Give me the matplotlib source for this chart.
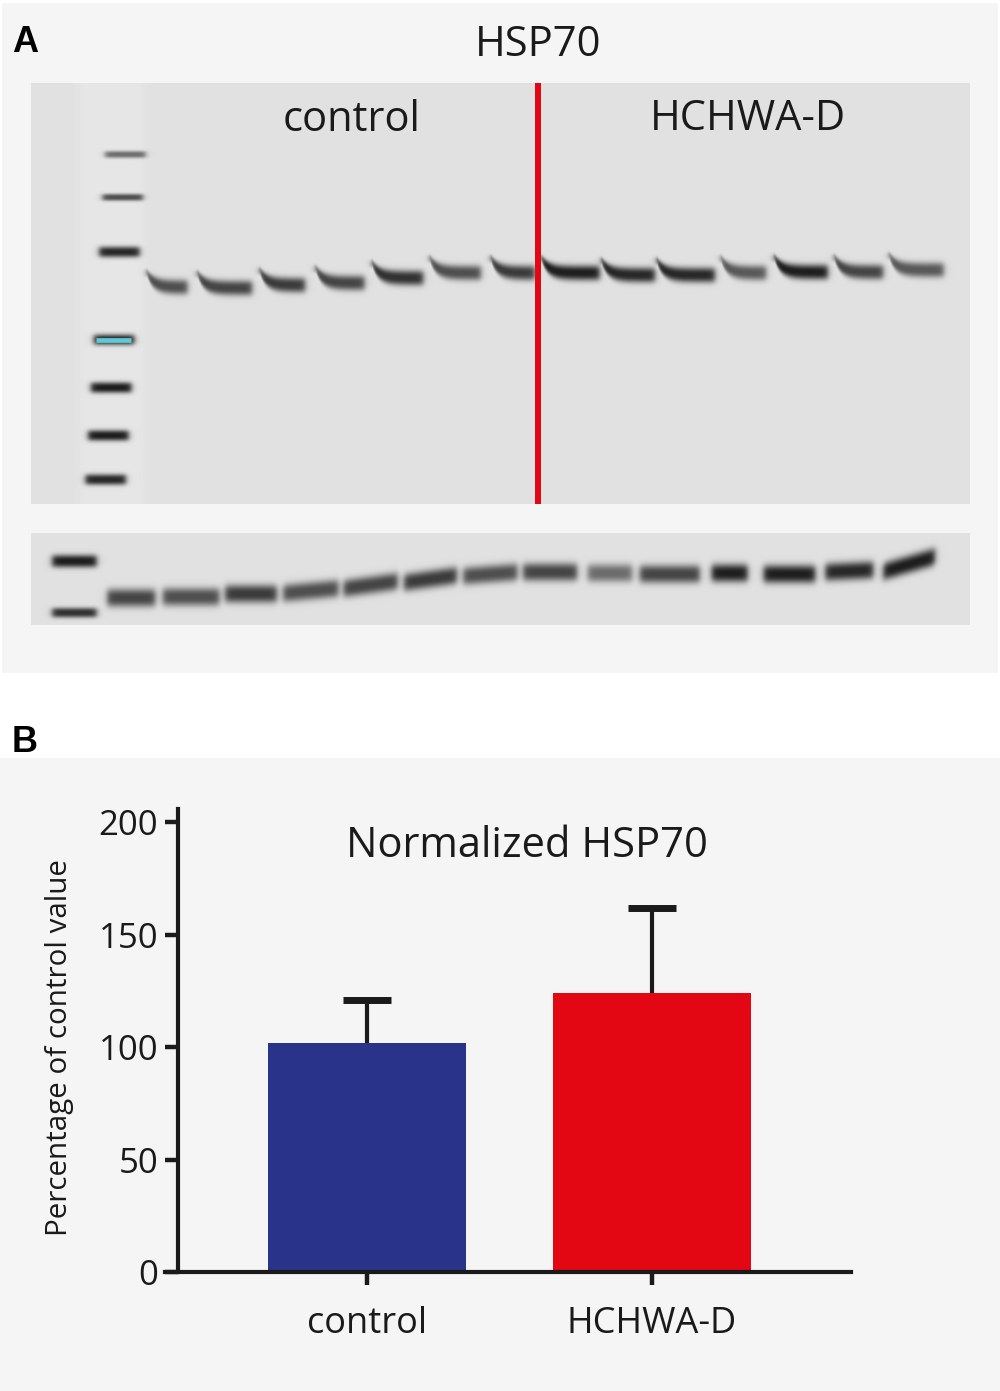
import matplotlib.pyplot as plt
import numpy as np
from matplotlib.patches import Rectangle

plt.rcParams['font.family'] = ['Open Sans', 'DejaVu Sans']

# ---- bar chart data (panel B)
groups = ['control', 'HCHWA-D']
hsp70_mean = [102, 124]
hsp70_err = [19, 38]          # upper error only
y_ticks = [0, 50, 100, 150, 200]

# ---- blot data (panel A)
lanes = np.arange(1, 15)
n_control = 7

# HSP70 blot: band migration (fraction of blot height from top) and relative band intensity
hsp_migration = [0.485, 0.487, 0.480, 0.475, 0.463, 0.451, 0.451,
                 0.451, 0.456, 0.456, 0.451, 0.449, 0.449, 0.444]
hsp_intensity = [0.75, 0.8, 0.85, 0.8, 0.9, 0.75, 0.85,
                 1.0, 0.95, 0.95, 0.7, 1.0, 0.8, 0.7]
hsp_ladder_migration = [0.169, 0.271, 0.401, 0.610, 0.724, 0.838, 0.943]
hsp_ladder_intensity = [0.6, 0.75, 0.95, 0.95, 1.0, 1.0, 0.95]

# loading control blot
load_migration = [0.707, 0.696, 0.663, 0.630, 0.565, 0.500, 0.446,
                  0.424, 0.435, 0.446, 0.435, 0.446, 0.413, 0.337]
load_intensity = [0.8, 0.75, 0.85, 0.75, 0.8, 0.85, 0.75,
                  0.8, 0.6, 0.8, 1.0, 1.0, 0.95, 1.0]
load_ladder_migration = [0.304, 0.870]
load_ladder_intensity = [1.0, 0.9]

# band shape styling (half widths in lanes, tilt)
hsp_halfwidth = [0.35, 0.47, 0.39, 0.42, 0.44, 0.44, 0.38,
                 0.50, 0.46, 0.50, 0.39, 0.46, 0.42, 0.47]
load_halfwidth = [0.40, 0.47, 0.43, 0.46, 0.45, 0.44, 0.45,
                  0.45, 0.37, 0.50, 0.30, 0.43, 0.40, 0.43]
load_tilt = [0, 0, 0, 0.06, 0.09, 0.09, 0.05, 0, 0, 0, 0, 0, 0.03, 0.19]

BG = '#f5f5f5'
BLOT_BG = 0.88
RED = '#e30613'
NAVY = '#29338a'
INK = '#1a1a1a'


def smooth_box(x, lo, hi, s):
    return 0.5 * (np.tanh((x - lo) / s) - np.tanh((x - hi) / s))


def draw_blot(ax, xlim, shape, bands, lighten=None):
    h, w = shape
    X, Y = np.meshgrid(np.linspace(xlim[0], xlim[1], w), np.linspace(0, 1, h))
    base = np.full(X.shape, BLOT_BG)
    if lighten is not None:
        lo, hi, amt = lighten
        base += amt * smooth_box(X, lo, hi, 0.08)
    D = np.zeros_like(X)
    for xc, m, inten, hw, th, hook, hook_len, tilt in bands:
        xl = xc - hw
        rise = np.exp(-np.clip(X - xl, 0, None) / hook_len)
        yc = m - tilt * (X - xc) - hook * rise
        thick = th * (1 - 0.5 * rise * (hook > 0))
        prof = np.exp(-np.abs((Y - yc) / thick) ** 2.6)
        D += inten * smooth_box(X, xl, xc + hw, 0.06) * prof
    img = base - (base - 0.12) * np.clip(D, 0, 1)
    ax.imshow(img, cmap='gray', vmin=0, vmax=1, extent=(xlim[0], xlim[1], 1, 0),
              aspect='auto', interpolation='bilinear')
    ax.set_xlim(xlim)
    ax.set_ylim(1, 0)
    ax.axis('off')


fig = plt.figure(figsize=(10, 13.91), dpi=100)
fig.patch.set_facecolor('white')
H = 1391.0

# panel backgrounds
fig.add_artist(Rectangle((0.002, (H - 673) / H), 0.996, 670 / H, transform=fig.transFigure,
                         color=BG, zorder=-5, lw=0))
fig.add_artist(Rectangle((0, 0), 1, (H - 758) / H, transform=fig.transFigure,
                         color=BG, zorder=-5, lw=0))

# ---------------- panel A: HSP70 blot
ax1 = fig.add_axes([0.031, (H - 504) / H, 0.939, 421 / H])
xlim1 = (-1.357, 14.917)
bands1 = []
for i, lane in enumerate(lanes):
    bands1.append((lane, hsp_migration[i], hsp_intensity[i], hsp_halfwidth[i],
                   0.018, 0.034, 0.12, 0.0))
for m, inten in zip(hsp_ladder_migration, hsp_ladder_intensity):
    th = 0.0085 if m < 0.3 else 0.013
    bands1.append((0.44 * (0.785 - m), m, inten, 0.35, th, 0.0, 0.1, 0.0))
draw_blot(ax1, xlim1, (421, 939), bands1, lighten=(-0.55, 0.62, 0.02))

# cyan highlighted marker band
m_cyan = hsp_ladder_migration[3]
xc_cyan = 0.44 * (0.785 - m_cyan)
ax1.plot([xc_cyan - 0.3, xc_cyan + 0.3], [m_cyan, m_cyan], color='#5cc9d9',
         lw=3.4, solid_capstyle='butt')

ax1.axvline(7.43, color=RED, lw=4.3)
ax1.text(np.mean(lanes[:n_control]) + 0.2, 0.115, groups[0], ha='center', va='baseline',
         fontsize=30, color=INK)
ax1.text(np.mean(lanes[n_control:]) + 0.07, 0.112, groups[1], ha='center', va='baseline',
         fontsize=30, color=INK)

# loading control blot
ax2 = fig.add_axes([0.031, (H - 625) / H, 0.939, 92 / H])
xlim2 = (-0.668, 15.008)
bands2 = []
for i, lane in enumerate(lanes):
    bands2.append((lane, load_migration[i], load_intensity[i], load_halfwidth[i],
                   0.1, 0.0, 0.1, load_tilt[i]))
for m, inten in zip(load_ladder_migration, load_ladder_intensity):
    th = 0.07 if m < 0.5 else 0.055
    bands2.append((0.05, m, inten, 0.37, th, 0.0, 0.1, 0.0))
draw_blot(ax2, xlim2, (92, 939), bands2)

fig.text(0.538, (H - 56) / H, 'HSP70', ha='center', va='baseline', fontsize=30, color=INK)
fig.text(0.012, (H - 52) / H, 'A', ha='left', va='baseline', fontsize=26,
         fontweight='bold', family=['Liberation Sans', 'DejaVu Sans'], color='black')
fig.text(0.012, (H - 752) / H, 'B', ha='left', va='baseline', fontsize=26,
         fontweight='bold', family=['Liberation Sans', 'DejaVu Sans'], color='black')

# ---------------- panel B: bar chart
axb = fig.add_axes([0.165, (H - 1272) / H, 0.686, 463 / H])
axb.patch.set_visible(False)
x = np.arange(len(groups))
axb.bar(x, hsp70_mean, width=0.695, color=[NAVY, RED], zorder=2)
eb = axb.errorbar(x, hsp70_mean, yerr=[np.zeros(len(x)), hsp70_err], fmt='none',
                  ecolor=INK, elinewidth=3, capsize=17.3, capthick=5, zorder=1)
# only the upper cap is shown
for cap in eb[1]:
    if np.allclose(cap.get_ydata(), hsp70_mean):
        cap.set_visible(False)
axb.set_xlim(-0.709, 1.698)
axb.set_ylim(0, 206)
axb.set_yticks(y_ticks)
axb.set_xticks(x)
axb.set_xticklabels(groups)
for s in ['top', 'right']:
    axb.spines[s].set_visible(False)
for s in ['left', 'bottom']:
    axb.spines[s].set_linewidth(3)
    axb.spines[s].set_color(INK)
axb.spines['left'].set_position(('axes', 0.019))
axb.tick_params(axis='y', direction='out', length=9.4, width=3.2, color=INK,
                labelsize=25, pad=5, labelcolor=INK)
axb.tick_params(axis='x', direction='out', length=9.4, width=3.2, color=INK,
                labelsize=26, pad=15, labelcolor=INK)
axb.text(0.528, 0.92, 'Normalized HSP70', transform=axb.transAxes, ha='center',
         va='center', fontsize=30, color=INK)
fig.text(0.060, (H - 1048) / H, 'Percentage of control value', rotation=90,
         ha='center', va='center', fontsize=21.3, color=INK)

fig.savefig('out.png', dpi=100)
